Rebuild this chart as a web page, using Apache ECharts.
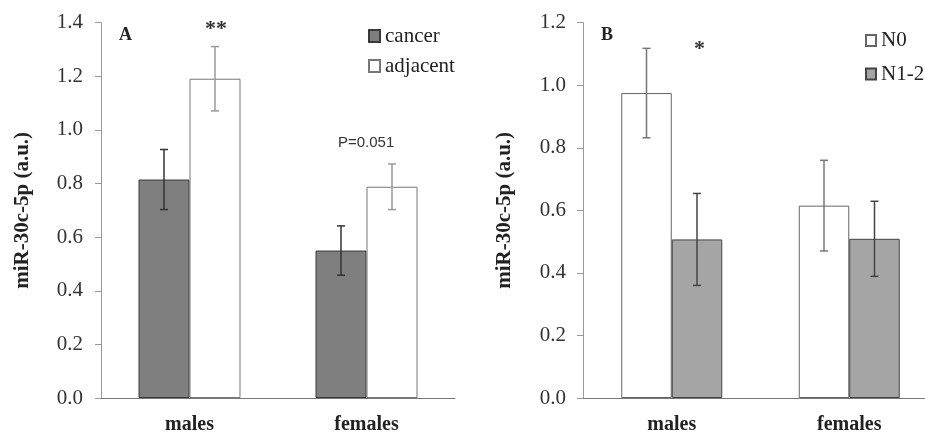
<!DOCTYPE html>
<html>
<head>
<meta charset="utf-8">
<script src="https://cdn.jsdelivr.net/npm/echarts@6/dist/echarts.min.js"></script>
<style>html,body{margin:0;padding:0;background:#fff;overflow:hidden;width:925px;height:435px}#c{width:945px;height:435px}</style>
</head>
<body>
<div id="c"></div>
<script>
// ---- data ----
const categories = ['males', 'females'];
// Panel A
const cancerVals = [0.815, 0.550];
const cancerErr = [0.112, 0.092];
const adjacentVals = [1.191, 0.788];
const adjacentErr = [0.120, 0.085];
const yTicksA = { min: 0, max: 1.4, interval: 0.2 };
// Panel B
const n0Vals = [0.975, 0.615];
const n0Err = [0.143, 0.145];
const n12Vals = [0.507, 0.509];
const n12Err = [0.147, 0.120];
const yTicksB = { min: 0, max: 1.2, interval: 0.2 };

const serif = '"Liberation Serif","Times New Roman",serif';
const sans = '"Liberation Sans",Arial,sans-serif';

function errData(vals, errs) {
  return vals.map((v, i) => [i, v - errs[i], v + errs[i]]);
}
function errSeries(name, xi, vals, errs, offset, color) {
  return {
    type: 'custom', name: name, xAxisIndex: xi, yAxisIndex: xi, z: 10,
    data: errData(vals, errs),
    renderItem: function (params, api) {
      const lo = api.coord([api.value(0), api.value(1)]);
      const hi = api.coord([api.value(0), api.value(2)]);
      const x = lo[0] + offset;
      const cw = 4;
      const st = { stroke: color, lineWidth: 1.5 };
      return {
        type: 'group', children: [
          { type: 'line', shape: { x1: x, y1: lo[1], x2: x, y2: hi[1] }, style: st },
          { type: 'line', shape: { x1: x - cw, y1: lo[1], x2: x + cw, y2: lo[1] }, style: st },
          { type: 'line', shape: { x1: x - cw, y1: hi[1], x2: x + cw, y2: hi[1] }, style: st }
        ]
      };
    }
  };
}

function yAxis(grid, t, gap, margin) {
  return {
    type: 'value', gridIndex: grid, min: t.min, max: t.max, interval: t.interval,
    name: 'miR-30c-5p (a.u.)', nameLocation: 'middle', nameRotate: 90, nameGap: gap,
    nameTextStyle: { fontFamily: serif, fontWeight: 'bold', fontSize: 21, color: '#222' },
    axisLine: { show: true, lineStyle: { color: '#999', width: 1 } },
    axisTick: { show: true, inside: false, length: 6, lineStyle: { color: '#999' } },
    splitLine: { show: false },
    axisLabel: { fontFamily: serif, fontSize: 21, color: '#333', margin: margin,
      formatter: v => v.toFixed(1) }
  };
}
function xAxis(grid) {
  return {
    type: 'category', gridIndex: grid, data: categories,
    axisLine: { show: true, lineStyle: { color: '#777', width: 1 } },
    axisTick: { show: false },
    axisLabel: { fontFamily: serif, fontSize: 20, fontWeight: 'bold', color: '#222', margin: 17 }
  };
}

const BW_A = 51, BW_B = 50.5;
const chart = echarts.init(document.getElementById('c'));
chart.setOption({
  animation: false,
  backgroundColor: '#fff',
  grid: [
    { left: 101, top: 22.7, width: 354, bottom: 34.3 },
    { left: 583, top: 22.7, width: 355, bottom: 35 }
  ],
  xAxis: [xAxis(0), xAxis(1)],
  yAxis: [yAxis(0, yTicksA, 68, 18), yAxis(1, yTicksB, 68, 17)],
  legend: [
    { data: ['cancer', 'adjacent'], orient: 'vertical', left: 368, top: 25.5, padding: 0,
      icon: 'rect', itemWidth: 11, itemHeight: 12, itemGap: 9,
      textStyle: { fontFamily: serif, fontSize: 21, color: '#222', lineHeight: 21 } },
    { data: ['N0', 'N1-2'], orient: 'vertical', left: 865, top: 30, padding: 0,
      icon: 'rect', itemWidth: 10, itemHeight: 11, itemGap: 12.5,
      textStyle: { fontFamily: serif, fontSize: 21, color: '#222', lineHeight: 21 } }
  ],
  graphic: [
    { type: 'text', left: 119, top: 26, style: { text: 'A', font: 'bold 18px ' + serif, fill: '#222' } },
    { type: 'text', left: 205, top: 18, style: { text: '**', font: 'bold 22px ' + serif, fill: '#333' } },
    { type: 'text', left: 338, top: 135, style: { text: 'P=0.051', font: '15px ' + sans, fill: '#333' } },
    { type: 'text', left: 601, top: 26, style: { text: 'B', font: 'bold 18px ' + serif, fill: '#222' } },
    { type: 'text', left: 694, top: 38, style: { text: '*', font: 'bold 22px ' + serif, fill: '#333' } }
  ],
  series: [
    { type: 'bar', name: 'cancer', xAxisIndex: 0, yAxisIndex: 0, data: cancerVals,
      barWidth: BW_A, barGap: '0%',
      itemStyle: { color: '#7f7f7f', borderColor: '#3a3a3a', borderWidth: 1 } },
    { type: 'bar', name: 'adjacent', xAxisIndex: 0, yAxisIndex: 0, data: adjacentVals,
      barWidth: BW_A, barGap: '0%',
      itemStyle: { color: '#ffffff', borderColor: '#777', borderWidth: 1 } },
    errSeries('errCancer', 0, cancerVals, cancerErr, -BW_A / 2, '#333'),
    errSeries('errAdj', 0, adjacentVals, adjacentErr, BW_A / 2, '#999'),
    { type: 'bar', name: 'N0', xAxisIndex: 1, yAxisIndex: 1, data: n0Vals,
      barWidth: BW_B, barGap: '0%',
      itemStyle: { color: '#ffffff', borderColor: '#666', borderWidth: 1 } },
    { type: 'bar', name: 'N1-2', xAxisIndex: 1, yAxisIndex: 1, data: n12Vals,
      barWidth: BW_B, barGap: '0%',
      itemStyle: { color: '#a5a5a5', borderColor: '#444', borderWidth: 1 } },
    errSeries('errN0', 1, n0Vals, n0Err, -BW_B / 2, '#777'),
    errSeries('errN12', 1, n12Vals, n12Err, BW_B / 2, '#444')
  ]
});
</script>
</body>
</html>
